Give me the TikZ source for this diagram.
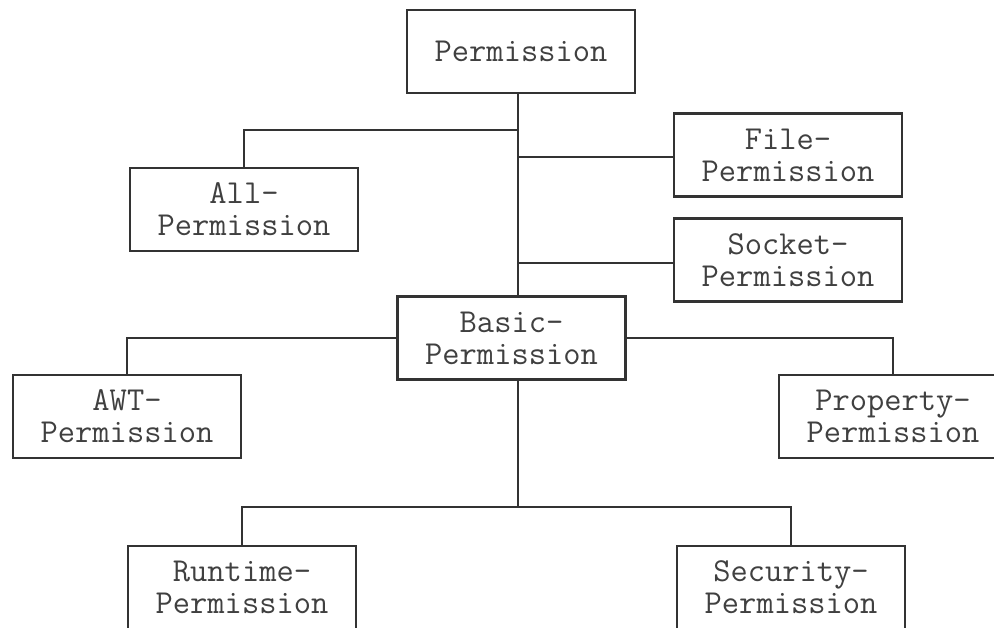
\documentclass[tikz,border=0pt]{standalone}
\usepackage{fontspec}
\begin{document}
\begin{tikzpicture}[x=1pt,y=-1pt,
  box/.style={draw=black!80, line width=2.6pt, fill=white, minimum width=228pt, minimum height=83pt,
    inner sep=0pt, align=center, font=\fontsize{33.5}{32}\selectfont\ttfamily, text=black!75},
  conn/.style={draw=black!80, line width=2.4pt}]
\useasboundingbox (0,0) rectangle (994,627);
\clip (0,0) rectangle (994,627);
\fill[white] (0,0) rectangle (994,627);
% nodes
\node[box] (perm) at (521,51.5) {Permission};
\node[box] (all) at (244,209.5) {All-\\Permission};
\node[box] (file) at (788,155) {File-\\Permission};
\node[box] (sock) at (788,260) {Socket-\\Permission};
\node[box] (basic) at (511.5,338) {Basic-\\Permission};
\node[box] (awt) at (127,416.5) {AWT-\\Permission};
\node[box] (prop) at (893,416.5) {Property-\\Permission};
\node[box] (run) at (242,587.5) {Runtime-\\Permission};
\node[box] (sec) at (791,587.5) {Security-\\Permission};
% junctions
\coordinate (jall) at (518,130);
\coordinate (jfile) at (518,157);
\coordinate (jsock) at (518,263);
\coordinate (jbot) at (518,507);
% connectors
\draw[conn] (perm.south -| jall) -- (basic.north -| jall);
\draw[conn] (jall) -| (all.north);
\draw[conn] (jfile) -- (file.west |- jfile);
\draw[conn] (jsock) -- (sock.west |- jsock);
\draw[conn] (basic.west) -| (awt.north);
\draw[conn] (basic.east) -| (prop.north);
\draw[conn] (basic.south -| jbot) -- (jbot);
\draw[conn] (jbot) -| (run.north);
\draw[conn] (jbot) -| (sec.north);
\end{tikzpicture}
\end{document}
